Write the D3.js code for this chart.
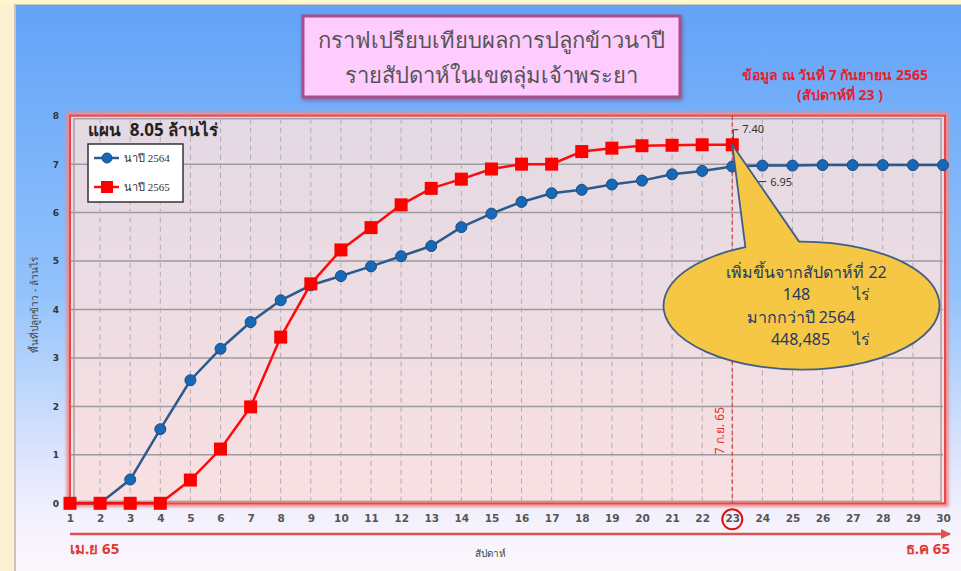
<!DOCTYPE html>
<html lang="th">
<head>
    <meta charset="UTF-8">
    <title>กราฟเปรียบเทียบผลการปลูกข้าวนาปี</title>
    <script src="https://d3js.org/d3.v7.min.js"></script>
    <style>
        body { margin: 0; background: #fff; }
        svg { display: block; font-family: "Noto Sans", "DejaVu Sans", sans-serif; }
    </style>
</head>
<body>
    <div id="chart"></div>

    <script>
        // Weeks (x axis categories)
        const weeks = [1, 2, 3, 4, 5, 6, 7, 8, 9, 10, 11, 12, 13, 14, 15,
                       16, 17, 18, 19, 20, 21, 22, 23, 24, 25, 26, 27, 28, 29, 30];
        // Planted area, million rai
        const rice2564 = [0, 0, 0.49, 1.53, 2.54, 3.19, 3.74, 4.19, 4.50, 4.69, 4.89, 5.10, 5.31, 5.70, 5.98,
                          6.22, 6.40, 6.47, 6.58, 6.66, 6.79, 6.86, 6.95, 6.97, 6.97, 6.98, 6.98, 6.98, 6.98, 6.98];
        const rice2565 = [0, 0, 0, 0, 0.48, 1.12, 1.99, 3.43, 4.53, 5.23, 5.69, 6.16, 6.50, 6.69, 6.90,
                          7.00, 7.00, 7.26, 7.33, 7.38, 7.39, 7.40, 7.40];
        const yTicks = [0, 1, 2, 3, 4, 5, 6, 7, 8];
        const currentWeek = 23;

        const W = 961, H = 571;
        const svg = d3.select("#chart").append("svg")
            .attr("width", W)
            .attr("height", H);

        const defs = svg.append("defs");
        const bg = defs.append("linearGradient").attr("id", "bg").attr("x1", 0).attr("y1", 0).attr("x2", 0).attr("y2", 1);
        bg.append("stop").attr("offset", "0%").attr("stop-color", "#62a3f8");
        bg.append("stop").attr("offset", "50%").attr("stop-color", "#92c2fb");
        bg.append("stop").attr("offset", "80%").attr("stop-color", "#dfe6fd");
        bg.append("stop").attr("offset", "92%").attr("stop-color", "#f7f3fc");
        bg.append("stop").attr("offset", "100%").attr("stop-color", "#fbf7fc");

        const plotBg = defs.append("linearGradient").attr("id", "plotBg").attr("x1", 0).attr("y1", 0).attr("x2", 0).attr("y2", 1);
        plotBg.append("stop").attr("offset", "0%").attr("stop-color", "#e3d9e4");
        plotBg.append("stop").attr("offset", "100%").attr("stop-color", "#f9e0e2");

        const shadow = defs.append("filter").attr("id", "shadow").attr("x", "-10%").attr("y", "-10%").attr("width", "120%").attr("height", "130%");
        shadow.append("feDropShadow").attr("dx", 1).attr("dy", 2).attr("stdDeviation", 2).attr("flood-color", "#7a3a6a").attr("flood-opacity", 0.6);

        const glow = defs.append("filter").attr("id", "glow").attr("x", "-5%").attr("y", "-5%").attr("width", "110%").attr("height", "110%");
        glow.append("feGaussianBlur").attr("stdDeviation", 1.5);

        defs.append("marker")
            .attr("id", "arrow")
            .attr("viewBox", "0 0 10 10")
            .attr("refX", 9).attr("refY", 5)
            .attr("markerWidth", 4).attr("markerHeight", 4)
            .attr("orient", "auto")
            .append("path")
            .attr("d", "M0,0 L10,5 L0,10 Z")
            .attr("fill", "#d9534f");

        // Window background
        svg.append("rect").attr("width", W).attr("height", H).attr("fill", "#fdf8cc");
        svg.append("rect").attr("y", 5).attr("width", 14).attr("height", H).attr("fill", "#fdefd2");
        svg.append("rect").attr("x", 14).attr("y", 4).attr("width", W).attr("height", H).attr("fill", "#c8c4b8");
        svg.append("rect").attr("x", 16).attr("y", 5).attr("width", W).attr("height", H).attr("fill", "url(#bg)");

        // Scales
        const x = d3.scaleLinear().domain([1, 30]).range([70, 943]);
        const y = d3.scaleLinear().domain([0, 8]).range([503.3, 115.7]);

        // Plot frame
        const plot = svg.append("g");
        plot.append("rect")
            .attr("x", x(1) - 1).attr("y", y(8) - 1)
            .attr("width", x(30) - x(1) + 4).attr("height", y(0) - y(8) + 2)
            .attr("fill", "none").attr("stroke", "#f08a8a").attr("stroke-width", 5)
            .attr("filter", "url(#glow)");
        plot.append("rect")
            .attr("x", x(1)).attr("y", y(8))
            .attr("width", x(30) - x(1) + 2).attr("height", y(0) - y(8))
            .attr("fill", "url(#plotBg)");
        plot.append("rect")
            .attr("x", x(1) + 4).attr("y", y(8) + 3)
            .attr("width", x(30) - x(1) - 6).attr("height", y(0) - y(8) - 5)
            .attr("fill", "none").attr("stroke", "#a8a0a8").attr("stroke-width", 1.5);

        // Grid
        plot.selectAll(".hgrid")
            .data(yTicks.filter(d => d > 0 && d < 8))
            .enter().append("line")
            .attr("x1", x(1)).attr("x2", x(30))
            .attr("y1", d => y(d)).attr("y2", d => y(d))
            .attr("stroke", "#9c9a9e").attr("stroke-width", 1.5);
        plot.selectAll(".vgrid")
            .data(weeks.filter(d => d > 1 && d < 30))
            .enter().append("line")
            .attr("x1", d => x(d)).attr("x2", d => x(d))
            .attr("y1", y(8) + 3).attr("y2", y(0))
            .attr("stroke", "#b0aab0").attr("stroke-width", 1)
            .attr("stroke-dasharray", "5,4");

        plot.append("rect")
            .attr("x", x(1)).attr("y", y(8))
            .attr("width", x(30) - x(1) + 2).attr("height", y(0) - y(8))
            .attr("fill", "none").attr("stroke", "#e84848").attr("stroke-width", 2);

        // Current week marker
        plot.append("line")
            .attr("x1", x(currentWeek)).attr("x2", x(currentWeek))
            .attr("y1", y(8)).attr("y2", y(0))
            .attr("stroke", "#d83a3a").attr("stroke-width", 1.2)
            .attr("stroke-dasharray", "4,3");
        plot.append("text")
            .attr("transform", `translate(${x(currentWeek) - 8},${y(1.5)}) rotate(-90)`)
            .attr("text-anchor", "middle")
            .attr("font-size", 12)
            .attr("fill", "#e03030")
            .text("7 ก.ย. 65");

        // Axes
        const yAxis = svg.append("g")
            .attr("transform", `translate(59,0)`)
            .call(d3.axisLeft(y).tickValues(yTicks).tickSize(0).tickPadding(0).tickFormat(d3.format("d")));
        yAxis.select(".domain").remove();
        yAxis.selectAll("text")
            .attr("font-family", "DejaVu Sans").attr("font-weight", "bold")
            .attr("font-size", 9).attr("fill", "#333");

        const xAxis = svg.append("g")
            .attr("transform", `translate(0,${y(0)})`)
            .call(d3.axisBottom(x).tickValues(weeks).tickSize(0).tickPadding(11).tickFormat(d3.format("d")));
        xAxis.select(".domain").remove();
        xAxis.selectAll("text")
            .attr("font-family", "DejaVu Sans").attr("font-weight", "bold")
            .attr("font-size", 10.5).attr("fill", "#555");

        svg.append("circle")
            .attr("cx", x(currentWeek)).attr("cy", y(0) + 16)
            .attr("r", 10)
            .attr("fill", "none").attr("stroke", "#e01010").attr("stroke-width", 2);

        // Lines
        const line = d3.line()
            .x((d, i) => x(weeks[i]))
            .y(d => y(d));

        svg.append("path")
            .datum(rice2564)
            .attr("d", line)
            .attr("fill", "none")
            .attr("stroke", "#2c5a8c")
            .attr("stroke-width", 2.5);
        svg.append("path")
            .datum(rice2565)
            .attr("d", line)
            .attr("fill", "none")
            .attr("stroke", "#ff0a0a")
            .attr("stroke-width", 2.5);

        svg.selectAll(".dot2564")
            .data(rice2564)
            .enter().append("circle")
            .attr("cx", (d, i) => x(weeks[i]))
            .attr("cy", d => y(d))
            .attr("r", 5.5)
            .attr("fill", "#1868b8")
            .attr("stroke", "#1d4c80").attr("stroke-width", 1);
        svg.selectAll(".sq2565")
            .data(rice2565)
            .enter().append("rect")
            .attr("x", (d, i) => x(weeks[i]) - 6.5)
            .attr("y", d => y(d) - 6.5)
            .attr("width", 13).attr("height", 13)
            .attr("fill", "#ff0000");

        // Value labels at current week
        const tipX = x(currentWeek), tip65 = y(rice2565[currentWeek - 1]), tip64 = y(rice2564[currentWeek - 1]);
        svg.append("path")
            .attr("d", `M${tipX + 1},${tip65 - 6} L${tipX + 1},${tip65 - 15} L${tipX + 6},${tip65 - 15}`)
            .attr("fill", "none").attr("stroke", "#333").attr("stroke-width", 1);
        svg.append("text")
            .attr("x", tipX + 10).attr("y", tip65 - 12)
            .attr("font-size", 11).attr("fill", "#333")
            .text(rice2565[currentWeek - 1].toFixed(2));
        svg.append("path")
            .attr("d", `M${tipX + 8},${tip64 + 5} L${tipX + 26},${tip64 + 15} L${tipX + 34},${tip64 + 15}`)
            .attr("fill", "none").attr("stroke", "#333").attr("stroke-width", 1);
        svg.append("text")
            .attr("x", tipX + 38).attr("y", tip64 + 19)
            .attr("font-size", 11).attr("fill", "#333")
            .text(rice2564[currentWeek - 1].toFixed(2));

        // Callout bubble
        const cx = x(25.3), cy = y(4.08), rx = 138, ry = 64;
        const pa = -114 * Math.PI / 180, pb = -91 * Math.PI / 180;
        const ax = cx + rx * Math.cos(pa), ay = cy + ry * Math.sin(pa);
        const bx = cx + rx * Math.cos(pb), by = cy + ry * Math.sin(pb);
        svg.append("path")
            .attr("d", `M${tipX},${tip65} L${ax},${ay} A${rx},${ry} 0 1 0 ${bx},${by} Z`)
            .attr("fill", "#f6c744")
            .attr("stroke", "#3f5f86")
            .attr("stroke-width", 1.8)
            .attr("stroke-linejoin", "round");

        const callout = svg.append("g")
            .attr("font-size", 16)
            .attr("fill", "#243a64");
        callout.append("text").attr("x", cx + 5).attr("y", cy - 28).attr("text-anchor", "middle").text("เพิ่มขึ้นจากสัปดาห์ที่ 22");
        callout.append("text").attr("x", cx - 5).attr("y", cy - 6).attr("text-anchor", "middle").text("148");
        callout.append("text").attr("x", cx + 60).attr("y", cy - 6).attr("text-anchor", "middle").text("ไร่");
        callout.append("text").attr("x", cx - 55).attr("y", cy + 17).text("มากกว่าปี 2564");
        callout.append("text").attr("x", cx - 1).attr("y", cy + 39).attr("text-anchor", "middle").text("448,485");
        callout.append("text").attr("x", cx + 60).attr("y", cy + 39).attr("text-anchor", "middle").text("ไร่");

        // Plan text and legend
        svg.append("text")
            .attr("x", 88).attr("y", 136)
            .attr("font-size", 17).attr("font-weight", "bold").attr("fill", "#222")
            .style("white-space", "pre")
            .text("แผน  8.05 ล้านไร่");

        const legend = svg.append("g").attr("transform", "translate(88,144)");
        legend.append("rect")
            .attr("width", 95).attr("height", 58)
            .attr("fill", "#fff").attr("stroke", "#333").attr("stroke-width", 1.5);
        legend.append("line").attr("x1", 6).attr("x2", 31).attr("y1", 14).attr("y2", 14)
            .attr("stroke", "#2c5a8c").attr("stroke-width", 2.5);
        legend.append("circle").attr("cx", 19).attr("cy", 14).attr("r", 5)
            .attr("fill", "#1868b8").attr("stroke", "#1d4c80");
        legend.append("line").attr("x1", 6).attr("x2", 31).attr("y1", 43).attr("y2", 43)
            .attr("stroke", "#ff0a0a").attr("stroke-width", 2.5);
        legend.append("rect").attr("x", 13).attr("y", 37).attr("width", 12).attr("height", 12)
            .attr("fill", "#ff0000");
        legend.selectAll(".lt")
            .data(["นาปี 2564", "นาปี 2565"])
            .enter().append("text")
            .attr("x", 36).attr("y", (d, i) => 18 + i * 29)
            .attr("font-family", "Liberation Serif, serif")
            .attr("font-size", 11).attr("fill", "#333")
            .text(d => d);

        // Axis titles
        svg.append("text")
            .attr("transform", "translate(38,305) rotate(-90)")
            .attr("text-anchor", "middle")
            .attr("font-size", 10).attr("fill", "#444")
            .text("พื้นที่ปลูกข้าว - ล้านไร่");
        svg.append("text")
            .attr("x", 490).attr("y", 557)
            .attr("text-anchor", "middle")
            .attr("font-size", 10).attr("fill", "#444")
            .text("สัปดาห์");

        // Season arrow
        svg.append("line")
            .attr("x1", 70).attr("x2", 950).attr("y1", 534).attr("y2", 534)
            .attr("stroke", "#d9534f").attr("stroke-width", 2.5)
            .attr("marker-end", "url(#arrow)");
        svg.append("text")
            .attr("x", 70).attr("y", 554)
            .attr("font-size", 15).attr("font-weight", "bold").attr("fill", "#e03a3a")
            .text("เม.ย 65");
        svg.append("text")
            .attr("x", 950).attr("y", 554).attr("text-anchor", "end")
            .attr("font-size", 15).attr("font-weight", "bold").attr("fill", "#e03a3a")
            .text("ธ.ค 65");

        // Title box
        svg.append("rect")
            .attr("x", 303).attr("y", 16).attr("width", 377).attr("height", 81)
            .attr("fill", "#ffccff").attr("stroke", "#a8508a").attr("stroke-width", 3)
            .attr("filter", "url(#shadow)");
        svg.selectAll(".title")
            .data(["กราฟเปรียบเทียบผลการปลูกข้าวนาปี", "รายสัปดาห์ในเขตลุ่มเจ้าพระยา"])
            .enter().append("text")
            .attr("x", 491).attr("y", (d, i) => 48 + i * 35)
            .attr("text-anchor", "middle")
            .attr("font-size", 22).attr("fill", "#555")
            .text(d => d);

        // Data date note
        svg.selectAll(".note")
            .data(["ข้อมูล ณ วันที่ 7 กันยายน 2565", "(สัปดาห์ที่ 23 )"])
            .enter().append("text")
            .attr("x", (d, i) => i ? 840 : 835).attr("y", (d, i) => 80 + i * 20)
            .attr("text-anchor", "middle")
            .attr("font-size", 14).attr("font-weight", "bold").attr("fill", "#e8202a")
            .text(d => d);
    </script>
</body>
</html>
